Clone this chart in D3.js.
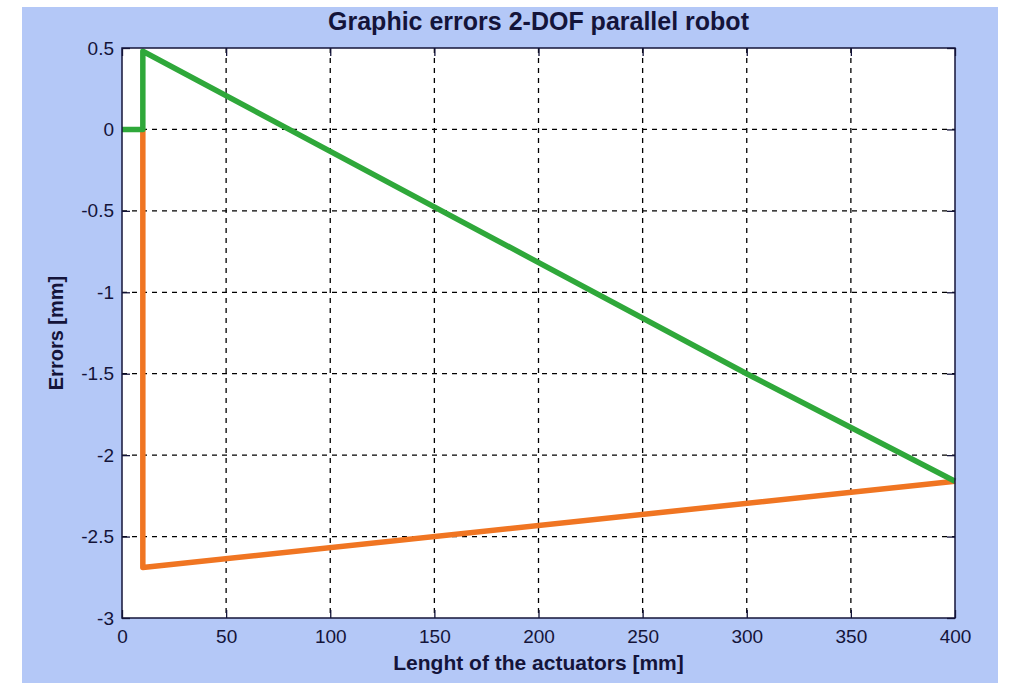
<!DOCTYPE html>
<html>
<head>
<meta charset="utf-8">
<script src="https://cdn.jsdelivr.net/npm/d3@7"></script>
<style>
  html, body { margin: 0; padding: 0; background: #ffffff; }
  svg { display: block; font-family: "Liberation Sans", Arial, sans-serif; }
</style>
</head>
<body>
<div id="chart"></div>
<script>
// ---- data ----
var X_TICKS = [0, 50, 100, 150, 200, 250, 300, 350, 400];
var Y_TICKS = [-3, -2.5, -2, -1.5, -1, -0.5, 0, 0.5];
var GREEN_X = [0, 10, 10, 300, 400];
var GREEN_Y = [0, 0, 0.48, -1.5, -2.16];
var ORANGE_X = [10, 10, 400];
var ORANGE_Y = [0, -2.69, -2.16];

var W = 1014, H = 687;
var BG = "#b4c8f7", INK = "#14143a", GREEN = "#2fa83a", ORANGE = "#f07522";
var m = { l: 122, t: 48, r: 1014 - 955, b: 687 - 618 };
var iw = W - m.l - m.r, ih = H - m.t - m.b;

var svg = d3.select("#chart").append("svg").attr("width", W).attr("height", H);
svg.append("rect").attr("x", 22).attr("y", 7).attr("width", 976).attr("height", 676).attr("fill", BG);
var g = svg.append("g").attr("transform", "translate(" + m.l + "," + m.t + ")");

var x = d3.scaleLinear().domain([0, 400]).range([0, iw]);
var y = d3.scaleLinear().domain([-3, 0.5]).range([ih, 0]);

g.append("rect").attr("width", iw).attr("height", ih).attr("fill", "#ffffff");

// dashed grid
g.selectAll(".gx").data(X_TICKS.slice(1, -1)).enter().append("line")
  .attr("x1", function (d) { return x(d); }).attr("x2", function (d) { return x(d); })
  .attr("y1", 0).attr("y2", ih).attr("stroke", "#000").attr("stroke-width", 1.3).attr("stroke-dasharray", "5,5");
g.selectAll(".gy").data(Y_TICKS.slice(1, -1)).enter().append("line")
  .attr("y1", function (d) { return y(d); }).attr("y2", function (d) { return y(d); })
  .attr("x1", 0).attr("x2", iw).attr("stroke", "#000").attr("stroke-width", 1.3).attr("stroke-dasharray", "5,5");

// inward ticks on all four sides (matlab style)
function axisStyle(sel) {
  sel.select(".domain").remove();
  sel.selectAll(".tick line").attr("stroke", INK).attr("stroke-width", 1.3);
  sel.selectAll(".tick text").attr("fill", INK).style("font-size", "19px").style("font-family", "Liberation Sans, Arial, sans-serif");
}
g.append("g").attr("transform", "translate(0," + ih + ")")
  .call(d3.axisBottom(x).tickValues(X_TICKS).tickSizeInner(-8).tickPadding(12).tickFormat(d3.format("d"))).call(axisStyle);
g.append("g").call(d3.axisTop(x).tickValues(X_TICKS).tickSizeInner(-8).tickFormat("")).call(axisStyle);
g.append("g").call(d3.axisLeft(y).tickValues(Y_TICKS).tickSizeInner(-8).tickPadding(8).tickFormat(function (d) { return String(d); })).call(axisStyle);
g.append("g").attr("transform", "translate(" + iw + ",0)")
  .call(d3.axisRight(y).tickValues(Y_TICKS).tickSizeInner(-8).tickFormat("")).call(axisStyle);

// series
var line = d3.line().x(function (d) { return x(d[0]); }).y(function (d) { return y(d[1]); });
g.append("path").attr("d", line(d3.zip(ORANGE_X, ORANGE_Y))).attr("fill", "none").attr("stroke", ORANGE)
  .attr("stroke-width", 5.5).attr("stroke-linejoin", "round");
g.append("path").attr("d", line(d3.zip(GREEN_X, GREEN_Y))).attr("fill", "none").attr("stroke", GREEN)
  .attr("stroke-width", 5.5).attr("stroke-linejoin", "round");

// frame
g.append("rect").attr("width", iw).attr("height", ih).attr("fill", "none").attr("stroke", INK).attr("stroke-width", 1.5);

// texts
svg.append("text").attr("x", m.l + iw / 2).attr("y", 30).attr("text-anchor", "middle")
  .attr("fill", INK).style("font-size", "25px").style("font-weight", "bold")
  .text("Graphic errors 2-DOF parallel robot");
svg.append("text").attr("x", m.l + iw / 2).attr("y", 670).attr("text-anchor", "middle")
  .attr("fill", INK).style("font-size", "21px").style("font-weight", "bold")
  .text("Lenght of the actuators [mm]");
svg.append("text").attr("transform", "translate(63," + (m.t + ih / 2) + ") rotate(-90)")
  .attr("text-anchor", "middle").attr("fill", INK).style("font-size", "20px").style("font-weight", "bold")
  .text("Errors [mm]");
</script>
</body>
</html>
